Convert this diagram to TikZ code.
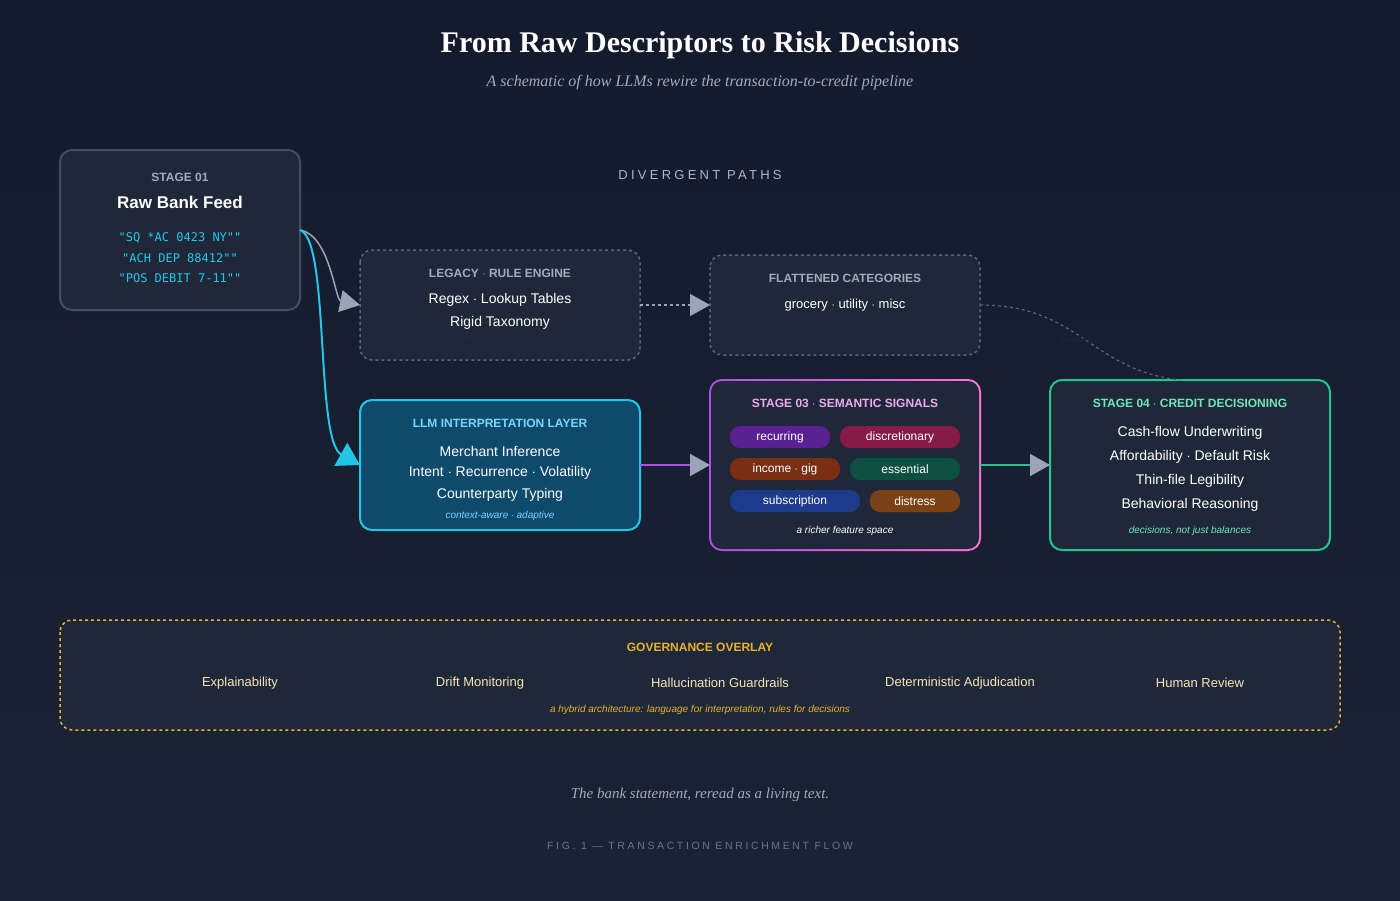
\documentclass[tikz,border=0pt]{standalone}
\usepackage{fontspec}
\setmainfont{Liberation Sans}
\newfontfamily\titlefont{Liberation Serif}
\newfontfamily\codefont{DejaVu Sans Mono}
\usetikzlibrary{positioning, arrows.meta, shapes}
\definecolor{bgtop}{HTML}{141B2D}
\definecolor{bgbot}{HTML}{1A2233}
\definecolor{boxfill}{HTML}{1F2839}
\definecolor{boxline}{HTML}{434E60}
\definecolor{dimline}{HTML}{5A6475}
\definecolor{mutetext}{HTML}{A3ABBA}
\definecolor{arrowgray}{HTML}{9AA5B8}
\definecolor{cyanline}{HTML}{22C7E8}
\definecolor{llmfill}{HTML}{0E4A6C}
\definecolor{llmhead}{HTML}{7DD3FC}
\definecolor{purpline}{HTML}{B44CE6}
\definecolor{pinkhead}{HTML}{F0A8F0}
\definecolor{greenline}{HTML}{22C58E}
\definecolor{greenhead}{HTML}{6EE7B7}
\definecolor{govline}{HTML}{E8B22C}
\definecolor{govtext}{HTML}{F5E6B8}
\definecolor{pillA}{HTML}{5B2192}
\definecolor{pillB}{HTML}{861C45}
\definecolor{pillC}{HTML}{7A2E14}
\definecolor{pillD}{HTML}{0D5040}
\definecolor{pillE}{HTML}{1E3A8A}
\definecolor{pillF}{HTML}{7A4216}
\tikzset{
  stage/.style={draw, rounded corners=12pt, line width=2pt, fill=boxfill},
  ghost/.style={draw=dimline, dashed, rounded corners=12pt, line width=1.5pt, fill=boxfill},
  pill/.style={rounded corners=10pt, minimum height=22pt, inner sep=0pt, text=white, font=\fontsize{12}{14}\selectfont},
  txt/.style={text=white, font=\fontsize{14}{16}\selectfont},
  head/.style={font=\bfseries\fontsize{12}{14}\selectfont},
  note/.style={font=\itshape\fontsize{10}{12}\selectfont},
  tip/.style={-{Triangle[length=20pt,width=22pt,fill=arrowgray,color=arrowgray]}},
}
\begin{document}
\begin{tikzpicture}[x=1pt,y=-1pt]
  \shade[top color=bgtop, bottom color=bgbot] (0,0) rectangle (1400,900);
  \useasboundingbox (0,0) rectangle (1400,900);
  % titles
  \node[text=white, font=\titlefont\bfseries\fontsize{30}{34}\selectfont] (title) at (700,45) {From Raw Descriptors to Risk Decisions};
  \node[text=mutetext, font=\titlefont\itshape\fontsize{16}{18}\selectfont] (sub) at (700,83) {A schematic of how LLMs rewire the transaction-to-credit pipeline};
  \node[text=arrowgray!80, font=\fontsize{13}{15}\selectfont\addfontfeature{LetterSpace=25}] (paths) at (700,175) {DIVERGENT PATHS};
  % boxes
  \draw[stage, draw=boxline] (60,150) rectangle (300,310);
  \node[head, text=mutetext] (s1h) at (180,177) {STAGE 01};
  \node[text=white, font=\bfseries\fontsize{17}{19}\selectfont] (s1t) at (180,202) {Raw Bank Feed};
  \foreach \y/\s in {238/"SQ *AC 0423 NY", 258/"ACH DEP 88412", 278/"POS DEBIT 7-11"}
    \node[text=cyanline, font=\codefont\fontsize{12}{14}\selectfont] at (180,\y) {\s"};
  \coordinate (s1out) at (300,230);

  \draw[ghost] (360,250) rectangle (640,360);
  \node[head, text=mutetext] (legh) at (500,273) {LEGACY $\cdot$ RULE ENGINE};
  \node[txt, text=white!85] (leg1) at (500,300) {Regex $\cdot$ Lookup Tables};
  \node[txt, text=white!85] (leg2) at (500,323) {Rigid Taxonomy};
  \node[note, text=dimline!140] (leg3) at (500,344) {brittle $\cdot$ context-blind};
  \coordinate (legin) at (360,305); \coordinate (legout) at (640,305);

  \draw[ghost] (710,255) rectangle (980,355);
  \node[head, text=mutetext] (flath) at (845,278) {FLATTENED CATEGORIES};
  \node[txt, text=white!85, font=\fontsize{13}{15}\selectfont] (flat1) at (845,305) {grocery $\cdot$ utility $\cdot$ misc};
  \node[note, text=dimline!140] (flat2) at (845,331) {nuance lost $\cdot$ signal compressed};
  \coordinate (flatin) at (710,305); \coordinate (flatout) at (980,305);

  \draw[stage, draw=cyanline, fill=llmfill] (360,400) rectangle (640,530);
  \node[head, text=llmhead] (llmh) at (500,423) {LLM INTERPRETATION LAYER};
  \node[txt] (llm1) at (500,451) {Merchant Inference};
  \node[txt] (llm2) at (500,473) {Intent $\cdot$ Recurrence $\cdot$ Volatility};
  \node[txt] (llm3) at (500,495) {Counterparty Typing};
  \node[note, text=llmhead] (llm4) at (500,516) {context-aware $\cdot$ adaptive};
  \coordinate (llmin) at (360,465); \coordinate (llmout) at (640,465);

  \shade[left color=purpline, right color=pink!60!magenta, rounded corners=13pt] (709,379) rectangle (981,551);
  \fill[boxfill, rounded corners=11pt] (711,381) rectangle (979,549);
  \node[head, text=pinkhead] (s3h) at (845,403) {STAGE 03 $\cdot$ SEMANTIC SIGNALS};
  \node[pill, fill=pillA, minimum width=100pt] (p1) at (780,437) {recurring};
  \node[pill, fill=pillB, minimum width=120pt] (p2) at (900,437) {discretionary};
  \node[pill, fill=pillC, minimum width=110pt] (p3) at (785,469) {income $\cdot$ gig};
  \node[pill, fill=pillD, minimum width=110pt] (p4) at (905,469) {essential};
  \node[pill, fill=pillE, minimum width=130pt] (p5) at (795,501) {subscription};
  \node[pill, fill=pillF, minimum width=90pt] (p6) at (915,501) {distress};
  \node[note, text=white!85] (s3n) at (845,531) {a richer feature space};
  \coordinate (s3in) at (710,465); \coordinate (s3out) at (980,465);

  \draw[stage, draw=greenline] (1050,380) rectangle (1330,550);
  \node[head, text=greenhead] (s4h) at (1190,403) {STAGE 04 $\cdot$ CREDIT DECISIONING};
  \node[txt] (s41) at (1190,433) {Cash-flow Underwriting};
  \node[txt] (s42) at (1190,457) {Affordability $\cdot$ Default Risk};
  \node[txt] (s43) at (1190,481) {Thin-file Legibility};
  \node[txt] (s44) at (1190,505) {Behavioral Reasoning};
  \node[note, text=greenhead] (s45) at (1190,531) {decisions, not just balances};
  \coordinate (s4in) at (1050,465); \coordinate (s4top) at (1180,380);

  % connectors
  \draw[tip, arrowgray, line width=1.5pt] (s1out) .. controls (330,235) and (335,300) .. (legin);
  \draw[-{Triangle[length=22pt,width=26pt]}, cyanline, line width=2pt] (s1out) .. controls (330,240) and (315,440) .. (llmin);
  \draw[tip, arrowgray, dashed, line width=1.5pt] (legout) -- (flatin);
  \draw[tip, purpline, line width=2pt] (llmout) -- (s3in);
  \draw[tip, greenline, line width=2pt] (s3out) -- (s4in);
  \draw[dimline, dashed, line width=1.2pt] (flatout) .. controls (1080,305) and (1090,370) .. (s4top);
  \node[note, text=dimline!140] (lim) at (1090,341) {limited inputs};

  % governance
  \draw[govline, dashed, rounded corners=12pt, line width=1.5pt, fill=boxfill] (60,620) rectangle (1340,730);
  \node[head, text=govline] (govh) at (700,647) {GOVERNANCE OVERLAY};
  \foreach \x/\t in {240/Explainability, 480/Drift Monitoring, 720/Hallucination Guardrails, 960/Deterministic Adjudication, 1200/Human Review}
    \node[text=govtext, font=\fontsize{13}{15}\selectfont] at (\x,683) {\t};
  \node[note, text=govline] (govn) at (700,710) {a hybrid architecture: language for interpretation, rules for decisions};

  % footer
  \node[text=mutetext, font=\titlefont\itshape\fontsize{15}{17}\selectfont] (foot) at (700,795) {The bank statement, reread as a living text.};
  \node[text=dimline!90, font=\fontsize{10.5}{12}\selectfont\addfontfeature{LetterSpace=25}] (fig) at (700,846) {FIG. 1 --- TRANSACTION ENRICHMENT FLOW};
\end{tikzpicture}
\end{document}
